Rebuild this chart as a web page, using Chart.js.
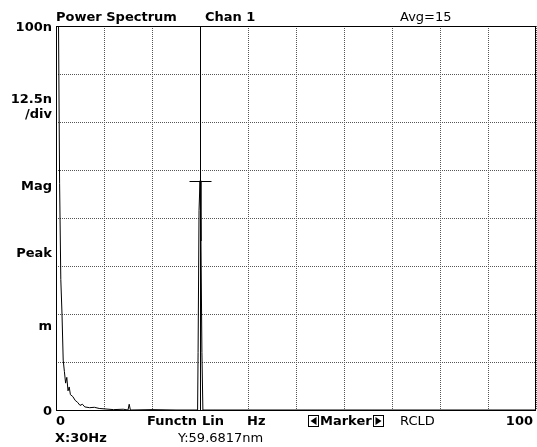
<!DOCTYPE html>
<html>
<head>
<meta charset="utf-8">
<script src="https://cdn.jsdelivr.net/npm/chart.js@4/dist/chart.umd.min.js"></script>
<style>
  html, body { margin: 0; padding: 0; background: #fff; }
  #wrap { width: 537px; height: 447px; }
</style>
</head>
<body>
<div id="wrap"><canvas id="c" width="537" height="447"></canvas></div>
<script>
// ---- data ----
const freqs = [0, 0.25, 0.5, 0.75, 1.0, 1.25, 1.5, 1.75, 2.0, 2.25, 2.5, 2.75, 3.0, 3.5, 4.0, 4.5, 5.0, 5.5, 6.0, 7.0, 8.0, 9.0, 10.0, 12.0, 14.0, 15.0, 15.25, 15.5, 20.0, 25.0, 29.5, 29.6, 29.8, 30.0, 30.2, 30.4, 30.6, 40.0, 50.0, 60.0, 70.0, 80.0, 90.0, 100.0];
const mags  = [140, 120, 105, 59, 34, 25, 13, 10, 7, 8.5, 5, 6, 4, 3.5, 2.5, 2, 1.2, 1.5, 0.8, 0.6, 0.7, 0.4, 0.3, 0.1, 0.2, 0, 1.5, 0, 0.1, 0, 0, 15, 52, 59.68, 44, 15, 0, 0, 0, 0, 0, 0, 0, 0];
const xTicks = [0, 10, 20, 30, 40, 50, 60, 70, 80, 90, 100];
const yLabels = ['100n', '12.5n', '/div', 'Mag', 'Peak', 'm', '0'];
const markerFreq = 30;
const markerMag = 59.6817;
const headerTexts = ['Power Spectrum', 'Chan 1', 'Avg=15'];
const footerTexts = ['0', 'Functn', 'Lin', 'Hz', 'Marker', 'RCLD', '100'];
const readouts = ['X:30Hz', 'Y:59.6817nm'];

const BOLD = 'bold 13px "DejaVu Sans"';
const NORM = '13px "DejaVu Sans"';

const decor = {
  id: 'decor',
  afterDatasetsDraw(chart) {
    const ctx = chart.ctx;
    const a = chart.chartArea;
    const xs = chart.scales.x, ys = chart.scales.y;
    ctx.save();
    // frame
    ctx.strokeStyle = '#000';
    ctx.lineWidth = 1;
    ctx.strokeRect(Math.round(a.left) + 0.5, Math.round(a.top) + 0.5, Math.round(a.right - a.left) - 1, Math.round(a.bottom - a.top));
    // marker
    const mx = Math.round(xs.getPixelForValue(markerFreq)) + 0.5;
    const my = Math.round(ys.getPixelForValue(markerMag)) + 0.5;
    ctx.beginPath();
    ctx.moveTo(mx, a.top); ctx.lineTo(mx, a.bottom);
    ctx.moveTo(mx - 11, my); ctx.lineTo(mx + 11, my);
    ctx.stroke();

    // texts
    ctx.fillStyle = '#000';
    ctx.textBaseline = 'alphabetic';
    ctx.textAlign = 'left';
    ctx.font = BOLD;
    ctx.fillText(headerTexts[0], 56, 21);
    ctx.fillText(headerTexts[1], 205, 21);
    ctx.font = NORM;
    ctx.fillText(headerTexts[2], 400, 21);

    // left labels
    ctx.font = BOLD;
    ctx.textAlign = 'right';
    const ly = [31, 103, 118, 190, 257, 330, 415];
    yLabels.forEach((t, i) => ctx.fillText(t, 52, ly[i]));

    // footer row
    ctx.textAlign = 'left';
    const fb = 425;
    ctx.fillText(footerTexts[0], 56, fb);
    ctx.fillText(footerTexts[1], 147, fb);
    ctx.fillText(footerTexts[2], 202, fb);
    ctx.fillText(footerTexts[3], 247, fb);
    // marker with boxed arrows
    const bx = 308, bw = 10, bh = 11, by = fb - 10;
    ctx.strokeRect(bx + 0.5, by + 0.5, bw, bh);
    ctx.beginPath();
    ctx.moveTo(bx + 2.5, by + 6); ctx.lineTo(bx + 8.5, by + 2); ctx.lineTo(bx + 8.5, by + 10); ctx.closePath(); ctx.fill();
    ctx.fillText(footerTexts[4], bx + bw + 2, fb);
    const mw = ctx.measureText(footerTexts[4]).width;
    const bx2 = Math.round(bx + bw + 2 + mw + 1);
    ctx.strokeRect(bx2 + 0.5, by + 0.5, bw, bh);
    ctx.beginPath();
    ctx.moveTo(bx2 + 8.5, by + 6); ctx.lineTo(bx2 + 2.5, by + 2); ctx.lineTo(bx2 + 2.5, by + 10); ctx.closePath(); ctx.fill();
    ctx.font = NORM;
    ctx.fillText(footerTexts[5], 400, fb);
    ctx.font = BOLD;
    ctx.textAlign = 'right';
    ctx.fillText(footerTexts[6], 533, fb);

    // readouts
    ctx.textAlign = 'left';
    ctx.fillText(readouts[0], 55, 442);
    ctx.font = NORM;
    ctx.fillText(readouts[1], 178, 442);
    ctx.restore();
  }
};

new Chart(document.getElementById('c'), {
  type: 'line',
  data: {
    datasets: [{
      data: freqs.map((f, i) => ({ x: f, y: mags[i] })),
      borderColor: '#000',
      borderWidth: 1,
      pointRadius: 0,
      tension: 0,
      fill: false
    }]
  },
  options: {
    responsive: false,
    animation: false,
    devicePixelRatio: 1,
    layout: { padding: { left: 56, top: 26, right: 1, bottom: 37 } },
    plugins: { legend: { display: false }, tooltip: { enabled: false } },
    scales: {
      x: {
        type: 'linear', min: 0, max: 100,
        afterBuildTicks: s => { s.ticks = xTicks.map(v => ({ value: v })); },
        ticks: { display: false },
        grid: { color: '#555', lineWidth: 1, drawTicks: false, tickLength: 0 },
        border: { display: false, dash: [1, 1] }
      },
      y: {
        type: 'linear', min: 0, max: 100,
        ticks: { display: false, stepSize: 12.5 },
        grid: { color: '#555', lineWidth: 1, drawTicks: false, tickLength: 0 },
        border: { display: false, dash: [1, 1] }
      }
    }
  },
  plugins: [decor]
});
</script>
</body>
</html>
